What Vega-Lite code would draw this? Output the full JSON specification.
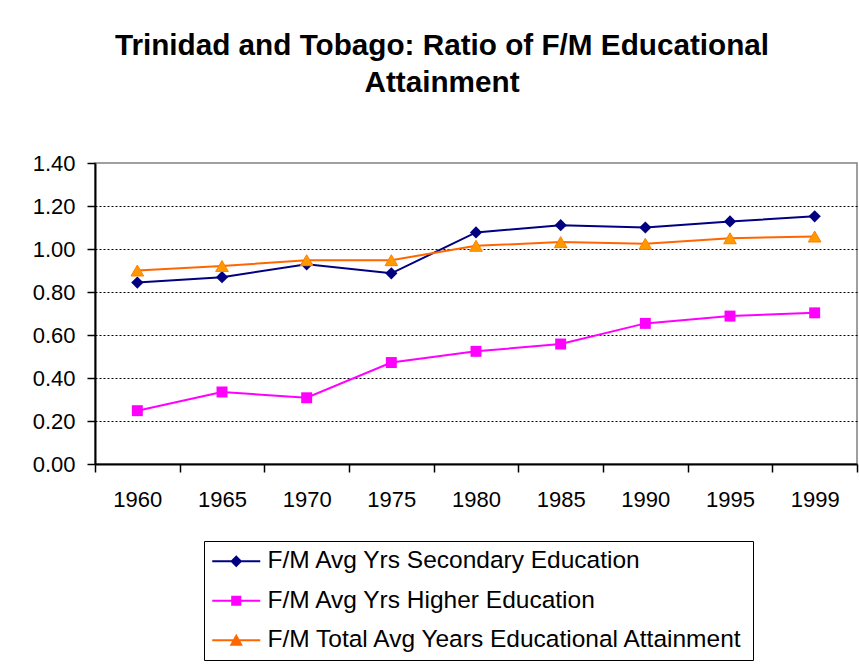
{
  "$schema": "https://vega.github.io/schema/vega-lite/v6.json",
  "width": 762,
  "height": 301,
  "autosize": {"type": "none"},
  "padding": {"left": 95, "top": 163, "right": 2, "bottom": 202},
  "background": "white",
  "title": {
    "text": ["Trinidad and Tobago: Ratio of F/M Educational", "Attainment"],
    "font": "Liberation Sans",
    "fontSize": 29.7,
    "fontWeight": "bold",
    "lineHeight": 37,
    "color": "black",
    "anchor": "middle",
    "frame": "group",
    "dx": -34,
    "offset": 53
  },
  "data": {
    "values": [
      {"year": "1960", "series": "F/M Avg Yrs Secondary Education", "value": 0.844},
      {"year": "1965", "series": "F/M Avg Yrs Secondary Education", "value": 0.869},
      {"year": "1970", "series": "F/M Avg Yrs Secondary Education", "value": 0.929},
      {"year": "1975", "series": "F/M Avg Yrs Secondary Education", "value": 0.887},
      {"year": "1980", "series": "F/M Avg Yrs Secondary Education", "value": 1.077},
      {"year": "1985", "series": "F/M Avg Yrs Secondary Education", "value": 1.111},
      {"year": "1990", "series": "F/M Avg Yrs Secondary Education", "value": 1.1},
      {"year": "1995", "series": "F/M Avg Yrs Secondary Education", "value": 1.128},
      {"year": "1999", "series": "F/M Avg Yrs Secondary Education", "value": 1.152},
      {"year": "1960", "series": "F/M Avg Yrs Higher Education", "value": 0.248},
      {"year": "1965", "series": "F/M Avg Yrs Higher Education", "value": 0.335},
      {"year": "1970", "series": "F/M Avg Yrs Higher Education", "value": 0.308},
      {"year": "1975", "series": "F/M Avg Yrs Higher Education", "value": 0.472},
      {"year": "1980", "series": "F/M Avg Yrs Higher Education", "value": 0.524},
      {"year": "1985", "series": "F/M Avg Yrs Higher Education", "value": 0.558},
      {"year": "1990", "series": "F/M Avg Yrs Higher Education", "value": 0.654},
      {"year": "1995", "series": "F/M Avg Yrs Higher Education", "value": 0.688},
      {"year": "1999", "series": "F/M Avg Yrs Higher Education", "value": 0.703},
      {"year": "1960", "series": "F/M Total Avg Years Educational Attainment", "value": 0.9},
      {"year": "1965", "series": "F/M Total Avg Years Educational Attainment", "value": 0.921},
      {"year": "1970", "series": "F/M Total Avg Years Educational Attainment", "value": 0.948},
      {"year": "1975", "series": "F/M Total Avg Years Educational Attainment", "value": 0.948},
      {"year": "1980", "series": "F/M Total Avg Years Educational Attainment", "value": 1.015},
      {"year": "1985", "series": "F/M Total Avg Years Educational Attainment", "value": 1.032},
      {"year": "1990", "series": "F/M Total Avg Years Educational Attainment", "value": 1.024},
      {"year": "1995", "series": "F/M Total Avg Years Educational Attainment", "value": 1.05},
      {"year": "1999", "series": "F/M Total Avg Years Educational Attainment", "value": 1.058}
    ]
  },
  "encoding": {
    "x": {
      "field": "year",
      "type": "ordinal",
      "scale": {"type": "band", "paddingInner": 0, "paddingOuter": 0},
      "axis": {
        "title": null,
        "labelAngle": 0,
        "labelFont": "Liberation Sans",
        "labelFontSize": 22,
        "labelColor": "black",
        "labelPadding": 17,
        "tickBand": "extent",
        "tickSize": 8,
        "tickColor": "black",
        "tickWidth": 1.5,
        "domainColor": "black",
        "domainWidth": 2,
        "grid": false
      }
    },
    "y": {
      "field": "value",
      "type": "quantitative",
      "scale": {"domain": [0, 1.4], "nice": false},
      "axis": {
        "title": null,
        "values": [0, 0.2, 0.4, 0.6, 0.8, 1.0, 1.2, 1.4],
        "format": ".2f",
        "labelFont": "Liberation Sans",
        "labelFontSize": 22,
        "labelColor": "black",
        "labelPadding": 12,
        "tickSize": 8,
        "tickColor": "black",
        "tickWidth": 1.5,
        "domainColor": "black",
        "domainWidth": 2,
        "grid": true,
        "gridColor": "black",
        "gridDash": [2, 2],
        "gridWidth": 1,
        "gridOpacity": {"condition": {"test": "datum.value > 1.3 || datum.value < 0.1", "value": 0}, "value": 1}
      }
    }
  },
  "layer": [
    {
      "transform": [{"filter": "datum.series === 'F/M Avg Yrs Secondary Education'"}],
      "mark": {"type": "line", "strokeWidth": 2, "color": "#000080"}
    },
    {
      "transform": [{"filter": "datum.series === 'F/M Avg Yrs Higher Education'"}],
      "mark": {"type": "line", "strokeWidth": 2, "color": "#FF00FF"}
    },
    {
      "transform": [{"filter": "datum.series === 'F/M Total Avg Years Educational Attainment'"}],
      "mark": {"type": "line", "strokeWidth": 2, "color": "#FF6600"}
    },
    {
      "transform": [{"filter": "datum.series === 'F/M Avg Yrs Secondary Education'"}],
      "mark": {"type": "point", "filled": true, "opacity": 1, "size": 150, "shape": "diamond", "color": "#000080"}
    },
    {
      "transform": [{"filter": "datum.series === 'F/M Avg Yrs Higher Education'"}],
      "mark": {"type": "point", "filled": true, "opacity": 1, "size": 120, "shape": "square", "color": "#FF00FF"}
    },
    {
      "transform": [{"filter": "datum.series === 'F/M Total Avg Years Educational Attainment'"}],
      "mark": {"type": "point", "filled": true, "opacity": 1, "size": 160, "shape": "triangle-up", "fill": "#FF9900", "stroke": "#FF8000", "strokeWidth": 1}
    },
    {
      "mark": {"type": "point", "filled": true, "opacity": 0, "size": 0},
      "encoding": {
        "color": {
          "field": "series",
          "type": "nominal",
          "scale": {
            "domain": ["F/M Avg Yrs Secondary Education", "F/M Avg Yrs Higher Education", "F/M Total Avg Years Educational Attainment"],
            "range": ["#000080", "#FF00FF", "#FF6600"]
          },
          "legend": {
            "title": null,
            "orient": "none",
            "legendX": 109,
            "legendY": 378,
            "direction": "vertical",
            "strokeColor": "black",
            "padding": 8,
            "labelFont": "Liberation Sans",
            "labelFontSize": 24.5,
            "labelColor": "black",
            "labelOffset": 31,
            "labelLimit": 600,
            "rowPadding": 14.5,
            "symbolSize": 576,
            "symbolOpacity": 1,
            "symbolStrokeWidth": 0
          }
        },
        "shape": {
          "field": "series",
          "type": "nominal",
          "scale": {
            "domain": ["F/M Avg Yrs Secondary Education", "F/M Avg Yrs Higher Education", "F/M Total Avg Years Educational Attainment"],
            "range": [
              "M-1,-0.08L3,-0.08L3,0.08L-1,0.08ZM1,-0.5L1.5,0L1,0.5L0.5,0Z",
              "M-1,-0.08L3,-0.08L3,0.08L-1,0.08ZM0.58,-0.42L1.42,-0.42L1.42,0.42L0.58,0.42Z",
              "M-1,-0.08L3,-0.08L3,0.08L-1,0.08ZM1,-0.55L1.55,0.45L0.45,0.45Z"
            ]
          },
          "legend": {
            "title": null,
            "orient": "none",
            "legendX": 109,
            "legendY": 378,
            "direction": "vertical",
            "strokeColor": "black",
            "padding": 8,
            "labelFont": "Liberation Sans",
            "labelFontSize": 24.5,
            "labelColor": "black",
            "labelOffset": 31,
            "labelLimit": 600,
            "rowPadding": 14.5,
            "symbolSize": 576,
            "symbolOpacity": 1,
            "symbolStrokeWidth": 0
          }
        }
      }
    }
  ],
  "config": {
    "view": {"stroke": "#808080", "strokeWidth": 1.5}
  }
}
